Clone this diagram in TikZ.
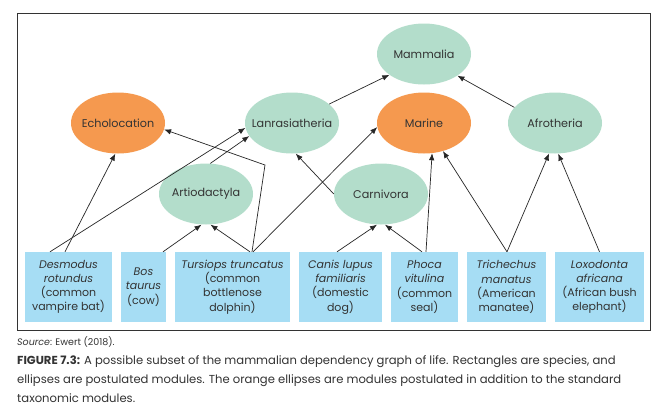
\documentclass[tikz,border=0pt]{standalone}
\usepackage{fontspec}
\setmainfont{Poppins}
\usetikzlibrary{arrows.meta,shapes.geometric}
\definecolor{modgreen}{HTML}{B3DDCB}
\definecolor{modorange}{HTML}{F5994F}
\definecolor{spblue}{HTML}{A6DDF4}
\definecolor{txt}{HTML}{333333}
\definecolor{framec}{HTML}{333333}
\newcommand{\modlabel}[1]{\makebox[0pt]{#1}}
\tikzset{
  mod/.style={ellipse, fill=modgreen, minimum width=94pt, minimum height=61pt, inner sep=0pt, text=txt, font=\fontsize{11.2}{13}\selectfont},
  modo/.style={mod, fill=modorange},
  sp/.style={rectangle, fill=spblue, minimum height=70pt, inner sep=0pt, align=center, text=txt, font=\fontsize{11}{14.2}\selectfont},
  arr/.style={-{Latex[length=7pt,width=5.5pt]}, draw=black!85, line width=0.7pt},
}
\begin{document}
\begin{tikzpicture}[x=1pt,y=-1pt]
\useasboundingbox (0,0) rectangle (667,418);
\fill[white] (0,0) rectangle (667,418);
\draw[framec, line width=1pt] (17,13) rectangle (650,330);

% modules
\node[mod]  (mam) at (424,54)  {\modlabel{Mammalia}};
\node[modo] (ech) at (118,123) {\modlabel{Echolocation}};
\node[mod]  (lan) at (292,123) {\modlabel{Lanrasiatheria}};
\node[modo] (mar) at (424,123) {\modlabel{Marine}};
\node[mod]  (afr) at (555,123) {\modlabel{Afrotheria}};
\node[mod]  (art) at (206,194) {\modlabel{Artiodactyla}};
\node[mod]  (car) at (381,194) {\modlabel{Carnivora}};

% species
\node[sp, minimum width=87pt]  (des) at (68.5,287)  {\textit{Desmodus}\\\textit{rotundus}\\(common\\vampire bat)};
\node[sp, minimum width=45pt]  (bos) at (143.5,287) {\textit{Bos}\\\textit{taurus}\\(cow)};
\node[sp, minimum width=115pt] (tur) at (232.5,287) {\textit{Tursiops truncatus}\\(common\\bottlenose\\dolphin)};
\node[sp, minimum width=83pt]  (can) at (340.5,287) {\textit{Canis lupus}\\\textit{familiaris}\\(domestic\\dog)};
\node[sp, minimum width=67pt]  (pho) at (424.5,287) {\textit{Phoca}\\\textit{vitulina}\\(common\\seal)};
\node[sp, minimum width=79pt]  (tri) at (506.5,287) {\textit{Trichechus}\\\textit{manatus}\\(American\\manatee)};
\node[sp, minimum width=89pt]  (lox) at (599.5,287) {\textit{Loxodonta}\\\textit{africana}\\(African bush\\elephant)};

% connectors
\draw[arr] (lan.27) -- (mam.211);
\draw[arr] (afr.159) -- (mam.-33);
\draw[arr] ([xshift=-3.5pt]des.north) -- (ech.-95);
\draw[arr] ([xshift=-18.5pt]des.north) -- (lan.186);
\draw[arr] (art.82) -- (lan.197);
\draw[arr] ([xshift=19.5pt]bos.north) -- ([xshift=-4.5pt]art.south);
\draw[arr] ([xshift=17.5pt]tur.north) -- ([xshift=4.5pt]art.south);
\draw[arr] ([xshift=19.5pt]tur.north) -- (265,165) -- (ech.-8);
\draw[arr] ([xshift=20.5pt]tur.north) -- (mar.185);
\draw[arr] (car.west) -- (lan.-83);
\draw[arr] ([xshift=-3.5pt]can.north) -- ([xshift=-4pt]car.south);
\draw[arr] ([xshift=-2.5pt]pho.north) -- ([xshift=4pt]car.south);
\draw[arr] ([xshift=1.5pt]pho.north) -- (mar.-75);
\draw[arr] ([xshift=0.5pt]tri.north) -- (mar.-56);
\draw[arr] ([xshift=0.5pt]tri.north) -- (afr.-101);
\draw[arr] (lox.north) -- (afr.-84);

% caption
\node[anchor=base west, inner sep=0pt, text=txt, font=\fontsize{9.5}{10}\selectfont] (src) at (17,345) {\textit{Source}: Ewert (2018).};
\node[anchor=north west, inner sep=0pt, align=left, text=txt, font=\fontsize{11.6}{19}\selectfont] (cap) at (17,355)
 {\textbf{FIGURE 7.3:} A possible subset of the mammalian dependency graph of life. Rectangles are species, and\\
  ellipses are postulated modules. The orange ellipses are modules postulated in addition to the standard\\
  taxonomic modules.};
\end{tikzpicture}
\end{document}
